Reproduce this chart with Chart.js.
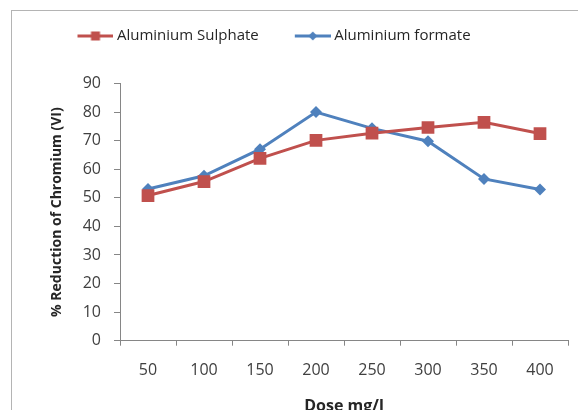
<!DOCTYPE html>
<html>
<head>
<meta charset="utf-8">
<script src="https://cdn.jsdelivr.net/npm/chart.js@4.4.0/dist/chart.umd.min.js"></script>
<style>
  html, body { margin: 0; background: #fff; }
</style>
</head>
<body>
<canvas id="chart" width="578" height="410"></canvas>
<script>
// valores
const doses = ['50', '100', '150', '200', '250', '300', '350', '400'];
const sulphate = [50.8, 55.7, 63.8, 70.1, 72.6, 74.6, 76.4, 72.5];
const formate = [53.1, 57.7, 67.0, 80.0, 74.3, 69.8, 56.6, 52.9];
const yMin = 0;
const yMax = 90;
const yStep = 10;

const red = '#C0504D';
const blue = '#4F81BD';
const axisGrey = '#868686';
const textGrey = '#404040';

// icono de leyenda: linea con marcador
function legendIcon(color, shape) {
    const c = document.createElement('canvas');
    c.width = 44;
    c.height = 14;
    const g = c.getContext('2d');
    g.strokeStyle = color;
    g.lineWidth = 3;
    g.beginPath();
    g.moveTo(8, 7);
    g.lineTo(44, 7);
    g.stroke();
    g.fillStyle = color;
    if (shape === 'square') {
        g.fillRect(21.5, 2.5, 9, 9);
    } else {
        g.beginPath();
        g.moveTo(26, 2.5);
        g.lineTo(30.5, 7);
        g.lineTo(26, 11.5);
        g.lineTo(21.5, 7);
        g.closePath();
        g.fill();
    }
    return c;
}

// marco del grafico (como en Excel) y leyenda un poco a la izquierda
const framePlugin = {
    id: 'frame',
    afterLayout(chart) {
        chart.legend.left -= 12;
        chart.legend.right -= 12;
    },
    beforeDraw(chart) {
        const ctx = chart.ctx;
        ctx.save();
        ctx.strokeStyle = '#b4b4b4';
        ctx.lineWidth = 1;
        ctx.strokeRect(11.5, 10.5, 700, 600);
        ctx.restore();
    }
};

const ctx = document.getElementById('chart').getContext('2d');
new Chart(ctx, {
    type: 'line',
    data: {
        labels: doses,
        datasets: [{
            label: 'Aluminium Sulphate',
            data: sulphate,
            borderColor: red,
            backgroundColor: red,
            borderWidth: 3,
            pointStyle: 'rect',
            pointRadius: 9,
            pointBorderWidth: 0,
            tension: 0
        }, {
            label: 'Aluminium formate',
            data: formate,
            borderColor: blue,
            backgroundColor: blue,
            borderWidth: 3,
            pointStyle: 'rectRot',
            pointRadius: 6,
            pointBorderWidth: 0,
            tension: 0
        }]
    },
    options: {
        responsive: false,
        animation: false,
        layout: {
            padding: { top: -3.5, left: 0, right: 10, bottom: 0 }
        },
        plugins: {
            legend: {
                position: 'top',
                labels: {
                    usePointStyle: true,
                    pointStyleWidth: 36,
                    padding: 32,
                    color: '#262626',
                    font: { family: 'Open Sans', size: 15 },
                    generateLabels(chart) {
                        return chart.data.datasets.map((ds, i) => ({
                            text: ds.label,
                            pointStyle: legendIcon(ds.borderColor, i === 0 ? 'square' : 'diamond'),
                            fillStyle: ds.borderColor,
                            strokeStyle: ds.borderColor,
                            lineWidth: 0,
                            fontColor: '#262626',
                            datasetIndex: i
                        }));
                    }
                }
            },
            // espacio entre leyenda y area del grafico
            title: {
                display: true,
                text: '',
                weight: 500,
                font: { size: 10, lineHeight: 1 },
                padding: { top: 0, bottom: 20 }
            },
            tooltip: { enabled: false }
        },
        scales: {
            x: {
                type: 'category',
                offset: true,
                grid: {
                    offset: true,
                    drawOnChartArea: false,
                    drawTicks: true,
                    tickLength: 5,
                    color: axisGrey
                },
                border: { color: axisGrey },
                ticks: {
                    padding: 15.5,
                    color: textGrey,
                    font: { family: 'Open Sans', size: 16 }
                },
                title: {
                    display: true,
                    text: 'Dose mg/l',
                    color: '#262626',
                    font: { family: 'Open Sans', size: 16, weight: 'bold', lineHeight: 0.5 },
                    padding: { top: 0, bottom: 0 }
                },
                afterFit(scale) { scale.height = 69.3; }
            },
            y: {
                min: yMin,
                max: yMax,
                ticks: {
                    stepSize: yStep,
                    padding: 13,
                    color: textGrey,
                    font: { family: 'Open Sans', size: 16 }
                },
                grid: {
                    drawOnChartArea: false,
                    drawTicks: true,
                    tickLength: 6,
                    color: axisGrey
                },
                border: { color: axisGrey },
                title: {
                    display: true,
                    text: '% Reduction of Chromium (VI)',
                    color: '#262626',
                    font: { family: 'Open Sans', size: 14, weight: 'bold' },
                    padding: { top: 49, bottom: 0 }
                },
                afterFit(scale) { scale.width = 120; }
            }
        }
    },
    plugins: [framePlugin]
});
</script>
</body>
</html>
